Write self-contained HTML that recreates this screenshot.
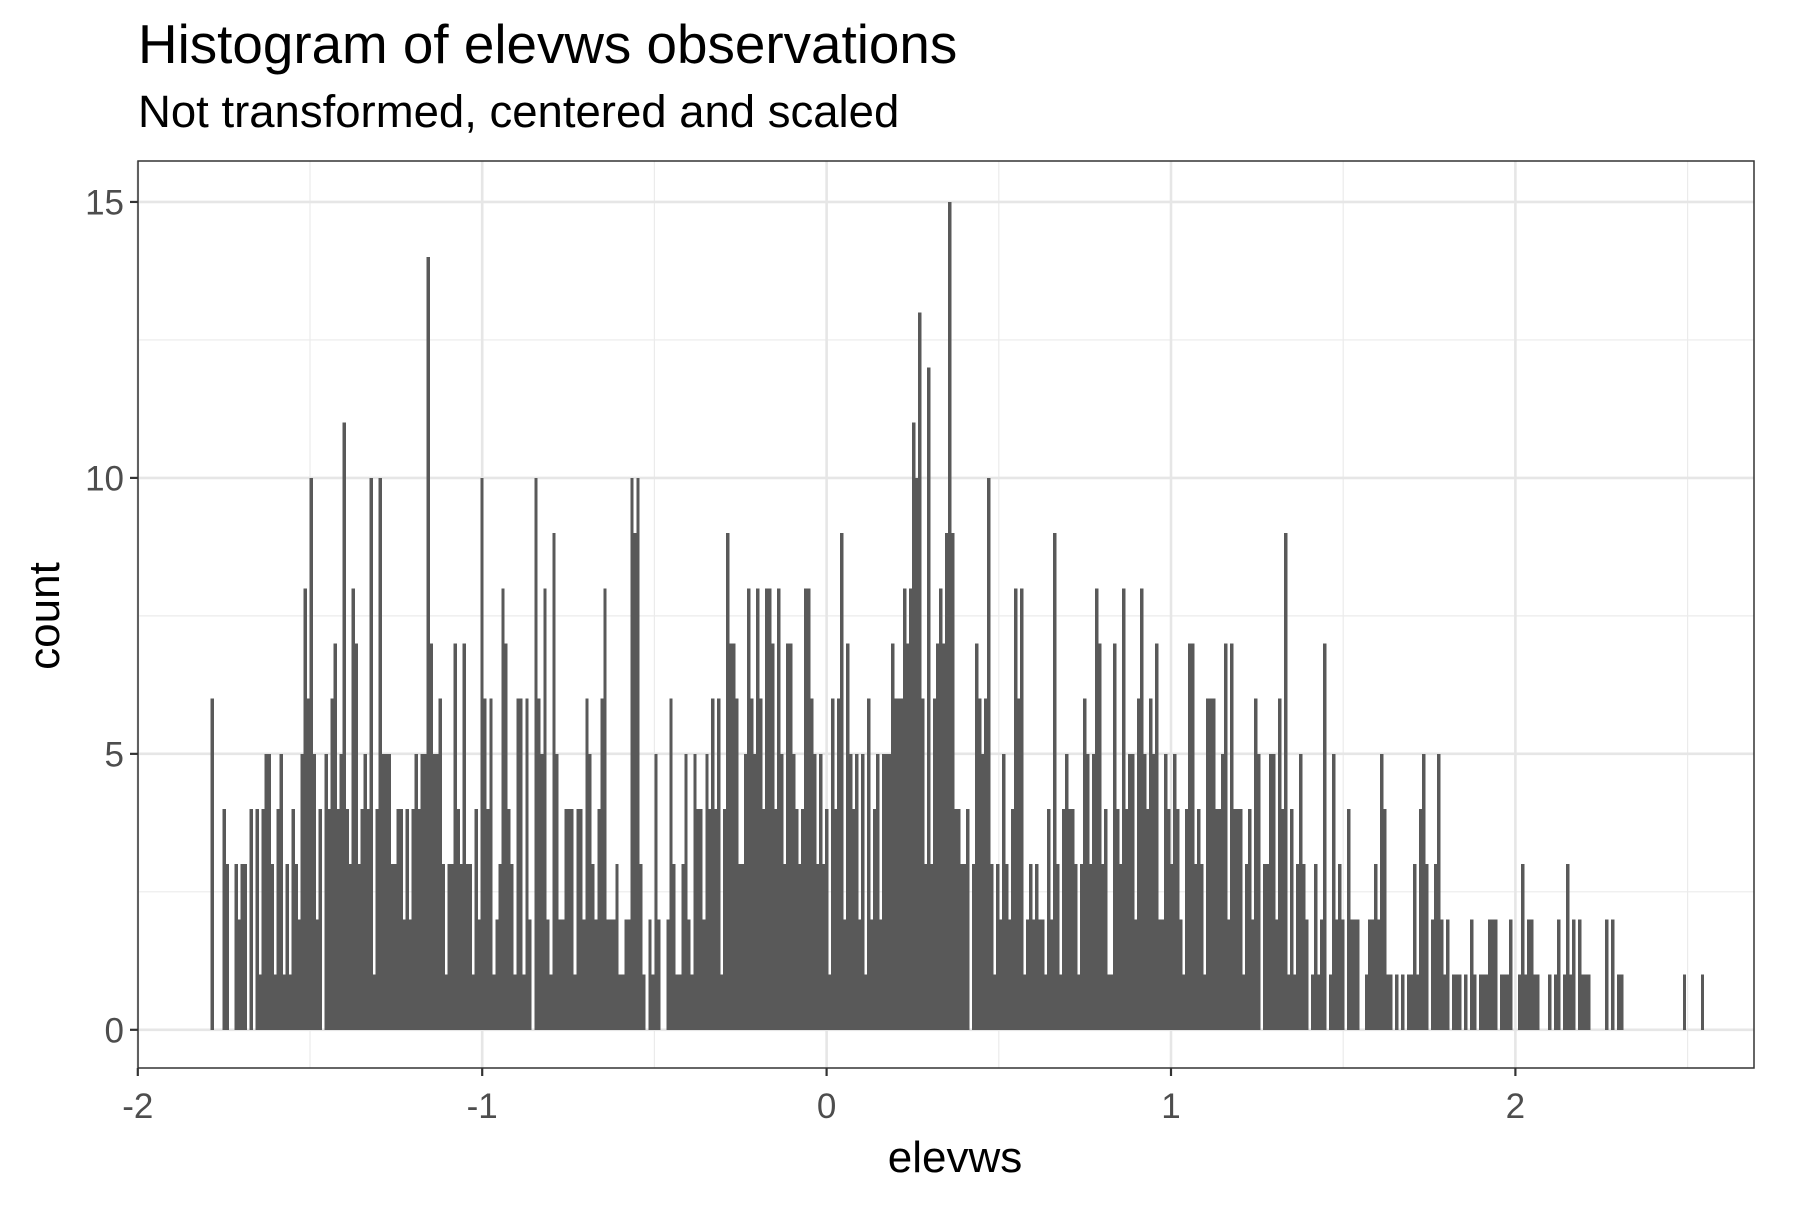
<!DOCTYPE html>
<html><head><meta charset="utf-8"><style>
body{margin:0;background:#fff}
svg text{font-family:"Liberation Sans",Arial,sans-serif}
</style></head><body>
<svg id="chart" width="1800" height="1200" viewBox="0 0 1800 1200" xmlns="http://www.w3.org/2000/svg">
<rect width="1800" height="1200" fill="#fff"/>
<text x="138" y="63" font-size="54.8" fill="#000">Histogram of elevws observations</text>
<text x="138" y="127" font-size="45.5" fill="#000">Not transformed, centered and scaled</text>
<g id="grid"></g>
<g id="bars" shape-rendering="crispEdges"></g>
<rect x="138" y="161" width="1616" height="907" fill="none" stroke="#333" stroke-width="1.5"/>
<g id="axes"></g>
<text x="955" y="1172" font-size="44" text-anchor="middle" fill="#000">elevws</text>
<text transform="translate(59,616) rotate(-90)" font-size="44" text-anchor="middle" fill="#000">count</text>
</svg>
<script>
const binStart = -1.789;
const binWidth = 0.008707;
const counts = [6,0,0,0,4,3,0,0,3,2,3,3,0,4,0,4,1,4,5,5,3,1,4,5,1,3,1,4,3,2,5,8,6,10,5,2,4,0,5,4,6,7,4,5,11,4,3,8,7,3,4,5,4,10,1,4,10,5,5,5,
3,3,4,4,2,4,2,4,5,4,5,5,14,7,5,5,6,3,
1,3,3,7,4,3,7,3,3,1,4,2,10,6,4,6,1,2,3,8,7,4,3,1,6,6,1,6,2,0,10,6,5,8,2,1,9,5,2,2,4,4,4,1,4,4,2,6,5,3,2,4,6,8,2,2,2,3,1,1,2,2,10,9,10,3,1,0,2,1,5,2,0,0,2,6,3,1,1,3,5,2,
1,5,4,4,2,5,4,6,4,6,1,4,9,7,7,6,3,3,5,8,6,5,8,6,4,8,8,7,4,8,5,3,7,7,5,4,3,4,8,8,6,5,3,5,3,4,1,6,4,6,9,2,7,5,4,5,2,5,1,6,2,4,5,2,5,5,5,7,6,6,6,8,7,8,11,10,13,6,3,12,3,6,7,
8,7,9,15,9,4,4,3,3,4,0,3,7,6,5,6,10,3,1,3,2,5,3,2,4,8,6,8,1,2,3,2,3,2,2,1,4,2,9,3,1,4,5,4,4,3,1,3,6,5,3,5,8,7,3,4,1,1,7,4,3,8,4,5,5,2,6,8,5,4,6,5,7,2,2,5,4,3,5,4,2,
1,4,7,7,3,4,3,1,6,6,6,4,4,5,7,2,7,4,4,4,1,3,4,2,6,5,0,3,3,5,5,2,6,4,9,1,4,1,3,5,3,2,0,1,3,1,2,7,0,1,5,2,3,2,0,4,2,2,2,0,0,1,2,2,3,2,5,4,1,1,0,1,0,1,0,1,1,3,1,4,5,3,0,
2,3,5,2,1,2,0,1,1,1,0,1,0,2,1,0,1,1,1,2,2,2,0,1,1,1,2,0,0,1,3,1,2,2,1,1,0,0,0,1,0,1,2,0,1,3,1,2,0,2,1,1,1,0,0,0,0,0,2,0,2,0,1,1,
0,0,0,0,0,0,0,0,0,0,0,0,0,0,0,0,0,0,0,0,1,0,0,0,0,0,1];
const xTicks = [-2,-1,0,1,2];
const xTickLabels = ["-2","-1","0","1","2"];
const xMinor = [-1.5,-0.5,0.5,1.5,2.5];
const yTicks = [0,5,10,15];
const yTickLabels = ["0","5","10","15"];
const yMinor = [2.5,7.5,12.5];

const NS = "http://www.w3.org/2000/svg";
const PL = 138, PR = 1754, PT = 161, PB = 1068;
function xs(v){ return 137.8 + (v + 2) * 344.4; }
function ys(c){ return 1029.8 - c * 55.19; }
function mk(tag, attrs, parent){
  const e = document.createElementNS(NS, tag);
  for (const k in attrs) e.setAttribute(k, attrs[k]);
  parent.appendChild(e);
  return e;
}
const grid = document.getElementById('grid');
const bars = document.getElementById('bars');
const axes = document.getElementById('axes');

yMinor.forEach(v => {
  const l = mk('line', {x1:PL, x2:PR, y1:ys(v), y2:ys(v), stroke:'#ebebeb', 'stroke-width':1.2}, grid);
  
  
});
xMinor.forEach(v => {
  const l = mk('line', {x1:xs(v), x2:xs(v), y1:PT, y2:PB, stroke:'#ebebeb', 'stroke-width':1.2}, grid);
  
  
});
yTicks.forEach(v => {
  const l = mk('line', {x1:PL, x2:PR, y1:ys(v), y2:ys(v), stroke:'#e6e6e6', 'stroke-width':2.6}, grid);
  
  
});
xTicks.forEach(v => {
  const l = mk('line', {x1:xs(v), x2:xs(v), y1:PT, y2:PB, stroke:'#e6e6e6', 'stroke-width':2.6}, grid);
  
  
});

counts.forEach((c, i) => {
  if (c <= 0) return;
  const x0 = xs(binStart + i * binWidth), x1 = xs(binStart + (i + 1) * binWidth);
  const r = mk('rect', {x:x0, y:ys(c), width:x1 - x0 + 0.4, height:ys(0) - ys(c), fill:'#595959'}, bars);
  
  
});

xTicks.forEach((v, i) => {
  const t = mk('line', {x1:xs(v), x2:xs(v), y1:PB, y2:PB + 8, stroke:'#333', 'stroke-width':2.2}, axes);
  
  
  const tx = mk('text', {x:xs(v), y:1118, 'font-size':35, 'text-anchor':'middle', fill:'#4d4d4d'}, axes);
  tx.textContent = xTickLabels[i];
  
  
});
yTicks.forEach((v, i) => {
  const t = mk('line', {x1:PL - 8, x2:PL, y1:ys(v), y2:ys(v), stroke:'#333', 'stroke-width':2.2}, axes);
  
  
  const tx = mk('text', {x:124, y:ys(v) + 12.5, 'font-size':35, 'text-anchor':'end', fill:'#4d4d4d'}, axes);
  tx.textContent = yTickLabels[i];
  
  
});
</script>
</body></html>
